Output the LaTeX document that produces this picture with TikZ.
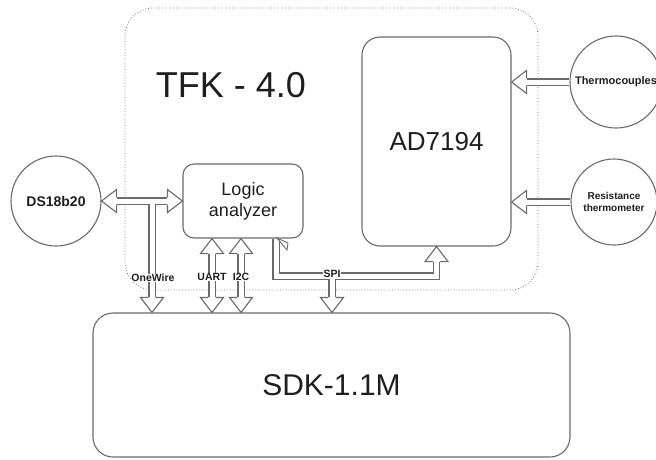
\documentclass[tikz,border=0pt]{standalone}
\usepackage{fontspec}
\setmainfont{Liberation Sans}
\usetikzlibrary{calc}
\definecolor{linecol}{HTML}{6A6A6A}
\definecolor{txtcol}{HTML}{1E1E1E}
\begin{document}
\begin{tikzpicture}[x=1pt,y=-1pt,
  box/.style={draw=linecol, line width=1.1pt, text=txtcol, inner sep=0pt, align=center},
  circ/.style={draw=linecol, line width=1.1pt, circle, text=txtcol, inner sep=0pt, align=center},
  shaft/.style={draw=linecol, line width=7.2pt, line join=miter, line cap=butt,
                postaction={draw=white, line width=5pt, line join=miter, line cap=butt}},
  ahead/.pic={
    \fill[white] (0,0) -- (-15,11.5) -- (-15,-11.5) -- cycle;
    \draw[linecol, line width=1.1pt, line join=miter] (-15,3.6) -- (-15,11.5) -- (0,0) -- (-15,-11.5) -- (-15,-3.6);
  },
  lbl/.style={fill=white, inner sep=0.6pt, text=txtcol, font=\fontsize{10.5}{11}\selectfont\bfseries}
]
\useasboundingbox (0,0) rectangle (656,459);
% frame of TFK-4.0
\node[draw=linecol, dotted, line width=0.8pt, rounded corners=28pt, minimum width=413pt, minimum height=282pt, inner sep=0pt] (tfk) at (331.5,149) {};
\node[text=txtcol, font=\fontsize{36}{40}\selectfont] (tfkl) at (231,85) {TFK - 4.0};
% blocks
\node[box, rounded corners=18pt, minimum width=149pt, minimum height=209pt] (ad) at (436.5,141.5) {};
\node[text=txtcol, font=\fontsize{26}{28}\selectfont] (adl) at (ad) {AD7194};
\node[box, rounded corners=11pt, minimum width=120pt, minimum height=74pt, font=\fontsize{18}{21}\selectfont] (la) at (243,201) {Logic\\analyzer};
\node[box, rounded corners=20pt, minimum width=477pt, minimum height=144pt, font=\fontsize{30}{32}\selectfont] (sdk) at (331.5,385) {SDK-1.1M};
\node[circ, minimum size=90pt, font=\fontsize{14}{16}\selectfont\bfseries] (ds) at (56,201) {DS18b20};
\node[circ, minimum size=92pt, font=\fontsize{11}{13}\selectfont\bfseries] (tc) at (616,82) {Thermocouples};
\node[circ, minimum size=86pt, font=\fontsize{10}{12}\selectfont\bfseries] (rt) at (614,202) {Resistance\\thermometer};
% coordinates
\coordinate (ow) at (152,201);
\coordinate (u) at (212,0);
\coordinate (i) at (241,0);
\coordinate (spis) at (276,239);
\coordinate (spic) at (276,276);
\coordinate (spib) at (332,276);
% DS18b20 <-> Logic analyzer, with OneWire branch
\path[shaft] ($(ds.east)+(15,0)$) -- ($(la.west)+(-15,0)$)
             (ow) -- ($(ow |- sdk.north)+(0,-15)$);
\pic at (ds.east) [rotate=180] {ahead};
\pic at (la.west) {ahead};
\pic at (ow |- sdk.north) [rotate=-90] {ahead};
\node[lbl] (owl) at (153,278) {OneWire};
% UART and I2C
\path[shaft] ($(u |- la.south)+(0,15)$) -- ($(u |- sdk.north)+(0,-15)$);
\pic at (u |- la.south) [rotate=90] {ahead};
\pic at (u |- sdk.north) [rotate=-90] {ahead};
\node[lbl] (ul) at (212,277) {UART};
\path[shaft] ($(i |- la.south)+(0,15)$) -- ($(i |- sdk.north)+(0,-15)$);
\pic at (i |- la.south) [rotate=90] {ahead};
\pic at (i |- sdk.north) [rotate=-90] {ahead};
\node[lbl] (il) at (241,277) {I2C};
% SPI
\path[shaft] (spis) -- (spic) -- (spic -| ad.south) -- ($(ad.south)+(0,15)$)
             (spib) -- ($(spib |- sdk.north)+(0,-15)$);
\pic at (ad.south) [rotate=90] {ahead};
\pic at (spib |- sdk.north) [rotate=-90] {ahead};
\node[lbl] (spil) at (332,274) {SPI};
\draw[linecol, line width=0.9pt, fill=white] (277,238) -- (288,243) -- (287,250) -- cycle;
% sensors -> AD7194
\path[shaft] (tc.west) -- ($(tc.west -| ad.east)+(15,0)$);
\pic at (tc.west -| ad.east) [rotate=180] {ahead};
\path[shaft] (rt.west) -- ($(rt.west -| ad.east)+(15,0)$);
\pic at (rt.west -| ad.east) [rotate=180] {ahead};
\end{tikzpicture}
\end{document}
